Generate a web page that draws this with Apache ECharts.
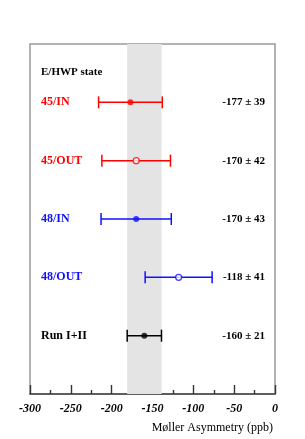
<!DOCTYPE html>
<html><head><meta charset="utf-8">
<script src="https://cdn.jsdelivr.net/npm/echarts@6/dist/echarts.min.js"></script>
<style>html,body{margin:0;padding:0;background:#fff}#c{width:305px;height:439px}</style>
</head><body><div id="c"></div>
<script>
const categories = ['45/IN', '45/OUT', '48/IN', '48/OUT', 'Run I+II'];
const values = [-177, -170, -170, -118, -160];
const errors = [39, 42, 43, 41, 21];
const rowPos = [5, 4, 3, 2, 1];
const filled = [true, false, true, false, true];
const rowColors = ['#ff0000', '#ff0000', '#1010ff', '#1010ff', '#000000'];
const bandLow = -181, bandHigh = -139;
const xTicks = [-300, -250, -200, -150, -100, -50, 0];

const serif = '"Liberation Serif","DejaVu Serif",serif';
const rows = categories.map((c, i) => [values[i], rowPos[i], errors[i], i]);

const chart = echarts.init(document.getElementById('c'));
chart.setOption({
  animation: false,
  grid: { left: 30, right: 30, top: 44, bottom: 45, show: true, borderColor: '#999', borderWidth: 1.5 },
  xAxis: {
    type: 'value', min: -300, max: 0, interval: 50,
    axisLine: { lineStyle: { color: '#444', width: 1.5 } },
    axisTick: { inside: true, length: 9, lineStyle: { color: '#333', width: 1.4 } },
    minorTick: { show: true, splitNumber: 2, length: 4, lineStyle: { color: '#333', width: 1.4 } },
    splitLine: { show: false },
    axisLabel: { margin: 9, color: '#000', fontFamily: serif, fontStyle: 'italic', fontWeight: 'bold', fontSize: 12,
      formatter: v => xTicks.includes(v) ? String(v) : '' }
  },
  yAxis: { type: 'value', min: 0, max: 6, show: false },
  graphic: [
    { type: 'text', left: 41, top: 67, style: { text: 'E/HWP state', font: 'bold 11px ' + serif, fill: '#000' } },
    { type: 'text', right: 32, top: 422, style: { text: 'M\u00f8ller Asymmetry (ppb)', font: '12px ' + serif, fill: '#000' } }
  ],
  series: [
    {
      type: 'custom',
      data: rows,
      markArea: { silent: true, itemStyle: { color: '#e4e4e4' }, data: [[{ xAxis: bandLow }, { xAxis: bandHigh }]] },
      renderItem: function (params, api) {
        const v = api.value(0), y = api.value(1), e = api.value(2), i = api.value(3);
        const l = api.coord([v - e, y]), r = api.coord([v + e, y]);
        const col = rowColors[i];
        const cap = 6;
        const cs = params.coordSys;
        const ls = { stroke: col, lineWidth: 1.5 };
        return {
          type: 'group',
          children: [
            { type: 'line', shape: { x1: l[0], y1: l[1], x2: r[0], y2: r[1] }, style: ls },
            { type: 'line', shape: { x1: l[0], y1: l[1] - cap, x2: l[0], y2: l[1] + cap }, style: ls },
            { type: 'line', shape: { x1: r[0], y1: r[1] - cap, x2: r[0], y2: r[1] + cap }, style: ls },
            { type: 'text', style: { x: cs.x + 11, y: l[1], text: categories[i], font: 'bold 12px ' + serif,
              fill: i === 4 ? '#000' : col, verticalAlign: 'middle', textAlign: 'left' } },
            { type: 'text', style: { x: cs.x + cs.width - 10, y: l[1], text: values[i] + ' \u00b1 ' + errors[i],
              font: 'bold 11px ' + serif, fill: '#000', verticalAlign: 'middle', textAlign: 'right' } }
          ]
        };
      }
    },
    {
      type: 'scatter', symbol: 'circle', symbolSize: 6, z: 5,
      data: rows.map((d, i) => ({ value: [d[0], d[1]], itemStyle: filled[i]
        ? { color: rowColors[i] } : { color: '#fff', borderColor: rowColors[i], borderWidth: 1.3 } }))
    }
  ]
});
</script></body></html>
